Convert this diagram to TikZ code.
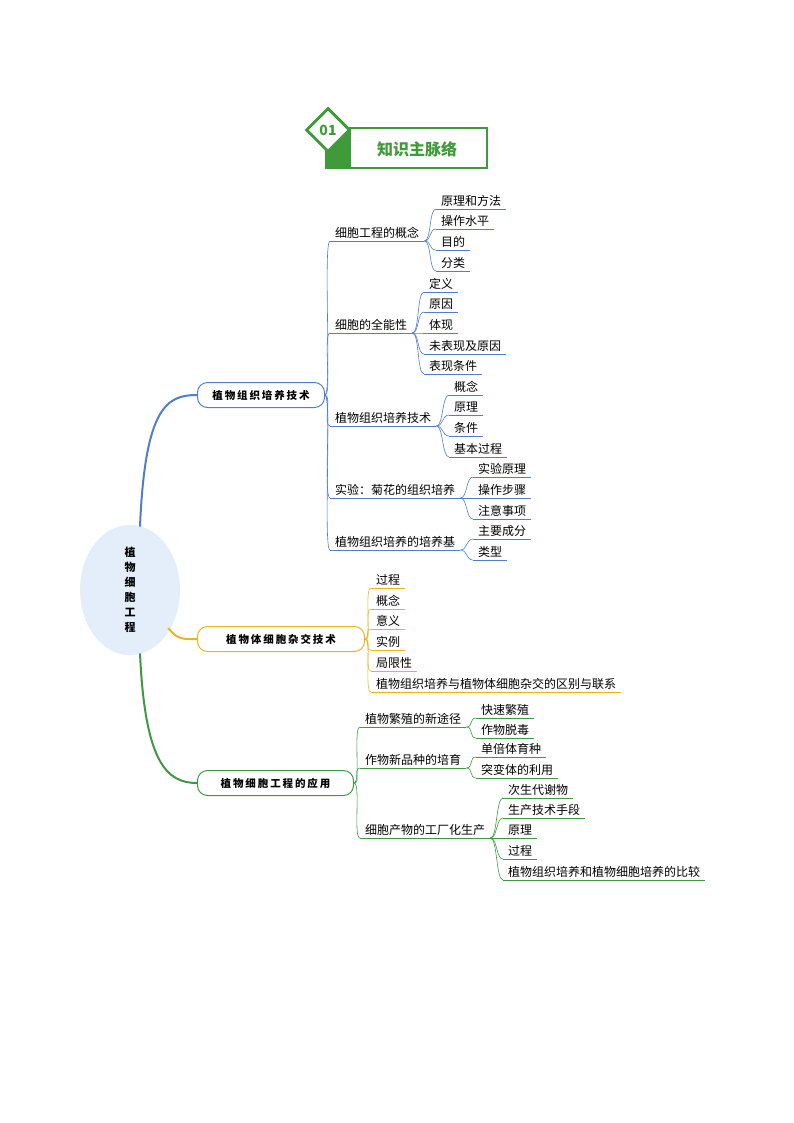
\documentclass[tikz,border=0pt]{standalone}
\usepackage{fontspec}
\setmainfont{Noto Sans CJK SC}
\usetikzlibrary{shapes.geometric}
\definecolor{hdgreen}{HTML}{3F9B3A}
\definecolor{blueline}{HTML}{4F7FC8}
\definecolor{yelline}{HTML}{EAB420}
\definecolor{grnline}{HTML}{3E9A42}
\definecolor{rootfill}{HTML}{E4EEFB}
\tikzset{%
	leaf/.style={
		anchor=south west,
		inner xsep=5pt,
		inner ysep=2pt,
		font=\fontsize{12}{13}\selectfont,
		append after command={(\tikzlastnode.south west) edge[#1] (\tikzlastnode.south east)}
	},
	branch/.style={
		draw=#1,
		anchor=west,
		rounded corners=10pt,
		minimum height=25pt,
		line width=1pt,
		font=\fontsize{10.5}{12}\selectfont\bfseries\addfontfeature{LetterSpace=18}
	},
	bl/.style={draw=blueline, line width=0.6pt},
	yl/.style={draw=yelline, line width=0.6pt},
	gl/.style={draw=grnline, line width=0.6pt},
}
\newcommand{\kid}[3]{\draw[#1] (#2.south east) .. controls +(7,0) and +(-7,0) .. (#3.south west);}
\begin{document}
\begin{tikzpicture}[x=1pt,y=-1pt]
	\useasboundingbox (0,0) rectangle (794,1123);
	
	% header
	\fill[hdgreen] (326,128) rectangle (351,168);
	\draw[hdgreen, line width=2pt] (326,128) rectangle (487,168);
	\node[diamond, draw=hdgreen, fill=white, line width=3pt, minimum size=44pt, inner sep=0pt,
		text=hdgreen, font=\fontsize{14}{14}\selectfont\bfseries] (num) at (328,130) {01};
	\node[text=hdgreen, font=\fontsize{16}{18}\selectfont\bfseries] (title) at (417,149) {知识主脉络};
	
	% root
	\node[ellipse, fill=rootfill, minimum width=100pt, minimum height=110pt,
		font=\fontsize{11}{15}\selectfont\bfseries, align=center] (root) at (130,590)
		{植\\物\\细\\胞\\工\\程};
	
	% main branches
	\node[branch=blueline, minimum width=127pt] (b1) at (197,395) {植物组织培养技术};
	\node[branch=yelline, minimum width=167pt] (b2) at (197,639) {植物体细胞杂交技术};
	\node[branch=grnline, minimum width=156pt] (b3) at (197,783) {植物细胞工程的应用};
	\draw[blueline, line width=2pt] (root.north) ++(10,2) .. controls +(5,-120) and +(-30,0) .. (b1.west);
	\draw[yelline, line width=2pt] (root.east) ++(-12,38) .. controls +(10,12) and +(-15,0) .. (b2.west);
	\draw[grnline, line width=2pt] (root.south) ++(10,-2) .. controls +(5,110) and +(-30,0) .. (b3.west);
	
	% branch 1
	\node[leaf=bl] (c1) at (330,241) {细胞工程的概念};
	\node[leaf=bl] (c2) at (330,333) {细胞的全能性};
	\node[leaf=bl] (c3) at (330,426) {植物组织培养技术};
	\node[leaf=bl] (c4) at (330,498) {实验：菊花的组织培养};
	\node[leaf=bl] (c5) at (330,550) {植物组织培养的培养基};
	\foreach \c in {c1,c2,c3,c4,c5} {\draw[bl] (b1.east) .. controls +(7,0) and +(-7,0) .. (\c.south west);}
	
	\node[leaf=bl] (c11) at (436,209) {原理和方法};
	\node[leaf=bl] (c12) at (436,229) {操作水平};
	\node[leaf=bl] (c13) at (436,250) {目的};
	\node[leaf=bl] (c14) at (436,271) {分类};
	\foreach \c in {c11,c12,c13,c14} {\kid{bl}{c1}{\c}}
	
	\node[leaf=bl] (c21) at (424,292) {定义};
	\node[leaf=bl] (c22) at (424,312) {原因};
	\node[leaf=bl] (c23) at (424,333) {体现};
	\node[leaf=bl] (c24) at (424,354) {未表现及原因};
	\node[leaf=bl] (c25) at (424,374) {表现条件};
	\foreach \c in {c21,c22,c23,c24,c25} {\kid{bl}{c2}{\c}}
	
	\node[leaf=bl] (c31) at (449,395) {概念};
	\node[leaf=bl] (c32) at (449,415) {原理};
	\node[leaf=bl] (c33) at (449,436) {条件};
	\node[leaf=bl] (c34) at (449,457) {基本过程};
	\foreach \c in {c31,c32,c33,c34} {\kid{bl}{c3}{\c}}
	
	\node[leaf=bl] (c41) at (473,477) {实验原理};
	\node[leaf=bl] (c42) at (473,498) {操作步骤};
	\node[leaf=bl] (c43) at (473,519) {注意事项};
	\foreach \c in {c41,c42,c43} {\kid{bl}{c4}{\c}}
	
	\node[leaf=bl] (c51) at (473,539) {主要成分};
	\node[leaf=bl] (c52) at (473,560) {类型};
	\foreach \c in {c51,c52} {\kid{bl}{c5}{\c}}
	
	% branch 2
	\node[leaf=yl] (d1) at (371,588) {过程};
	\node[leaf=yl] (d2) at (371,609) {概念};
	\node[leaf=yl] (d3) at (371,629) {意义};
	\node[leaf=yl] (d4) at (371,650) {实例};
	\node[leaf=yl] (d5) at (371,671) {局限性};
	\node[leaf=yl] (d6) at (371,692) {植物组织培养与植物体细胞杂交的区别与联系};
	\foreach \c in {d1,d2,d3,d4,d5,d6} {\draw[yl] (b2.east) .. controls +(7,0) and +(-7,0) .. (\c.south west);}
	
	% branch 3
	\node[leaf=gl] (e1) at (360,727) {植物繁殖的新途径};
	\node[leaf=gl] (e2) at (360,768) {作物新品种的培育};
	\node[leaf=gl] (e3) at (360,838) {细胞产物的工厂化生产};
	\foreach \c in {e1,e2,e3} {\draw[gl] (b3.east) .. controls +(7,0) and +(-7,0) .. (\c.south west);}
	
	\node[leaf=gl] (e11) at (476,718) {快速繁殖};
	\node[leaf=gl] (e12) at (476,738) {作物脱毒};
	\foreach \c in {e11,e12} {\kid{gl}{e1}{\c}}
	
	\node[leaf=gl] (e21) at (476,757) {单倍体育种};
	\node[leaf=gl] (e22) at (476,778) {突变体的利用};
	\foreach \c in {e21,e22} {\kid{gl}{e2}{\c}}
	
	\node[leaf=gl] (e31) at (503,798) {次生代谢物};
	\node[leaf=gl] (e32) at (503,818) {生产技术手段};
	\node[leaf=gl] (e33) at (503,838) {原理};
	\node[leaf=gl] (e34) at (503,859) {过程};
	\node[leaf=gl] (e35) at (503,880) {植物组织培养和植物细胞培养的比较};
	\foreach \c in {e31,e32,e33,e34,e35} {\kid{gl}{e3}{\c}}
\end{tikzpicture}
\end{document}
